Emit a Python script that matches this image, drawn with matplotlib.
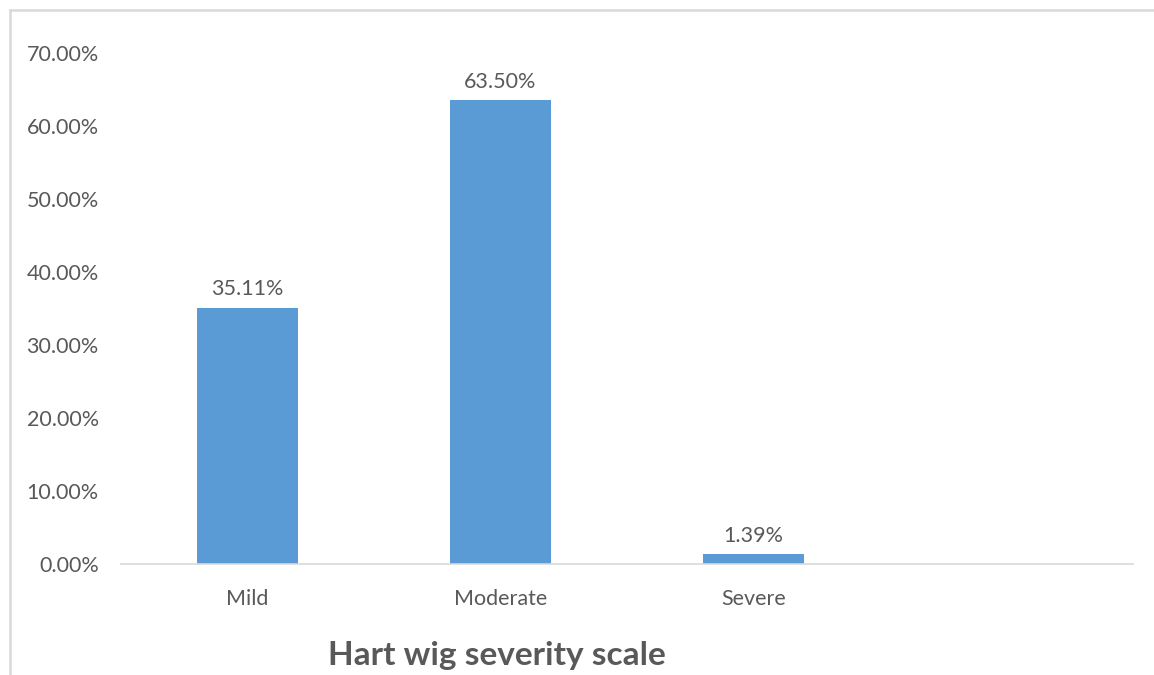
import matplotlib
matplotlib.use("Agg")
import matplotlib.pyplot as plt
from matplotlib.lines import Line2D

categories = ["Mild", "Moderate", "Severe", ""]
values = [35.11, 63.50, 1.39, None]
y_ticks = [0, 10, 20, 30, 40, 50, 60, 70]
title = "Hart wig severity scale"

W, H = 1154, 675
fig = plt.figure(figsize=(W / 100, H / 100), dpi=100)
plt.rcParams["font.family"] = ["Lato", "DejaVu Sans"]

ax = fig.add_axes([121 / W, 1 - 564 / H, (1133 - 121) / W, (564 - 53) / H])

bar_color = "#5B9BD5"
text_color = "#595959"

xs = list(range(len(categories)))
for x, v in zip(xs, values):
    if v is None:
        continue
    ax.bar(x, v, width=0.4, color=bar_color)
    ax.annotate(f"{v:.2f}%", (x, v), xytext=(0, 6), textcoords="offset points",
                ha="center", va="bottom", fontsize=15.5, color=text_color)

ax.set_xlim(-0.5, len(categories) - 0.5)
ax.set_ylim(0, 70)
ax.set_yticks(y_ticks)
ax.set_yticklabels([f"{t:.2f}%" for t in y_ticks], fontsize=15.5, color=text_color)
ax.set_xticks(xs)
ax.set_xticklabels(categories, fontsize=15.5, color=text_color)
ax.tick_params(axis="both", length=0)
ax.tick_params(axis="y", pad=16)
ax.tick_params(axis="x", pad=18)

for s in ("top", "right", "left"):
    ax.spines[s].set_visible(False)
ax.spines["bottom"].set_color("#D9D9D9")
ax.spines["bottom"].set_linewidth(1.2)

fig.text(497 / W, 1 - 655 / H, title, ha="center", va="center",
         fontsize=24, fontweight="bold", color=text_color)

# chart area frame (top and left edges)
fig.add_artist(Line2D([9.5 / W, 9.5 / W], [0, 1 - 10 / H], transform=fig.transFigure,
                      color="#D9D9D9", linewidth=1.8))
fig.add_artist(Line2D([9.5 / W, 1], [1 - 10 / H, 1 - 10 / H], transform=fig.transFigure,
                      color="#D9D9D9", linewidth=1.8))

fig.savefig("out.png", dpi=100)
